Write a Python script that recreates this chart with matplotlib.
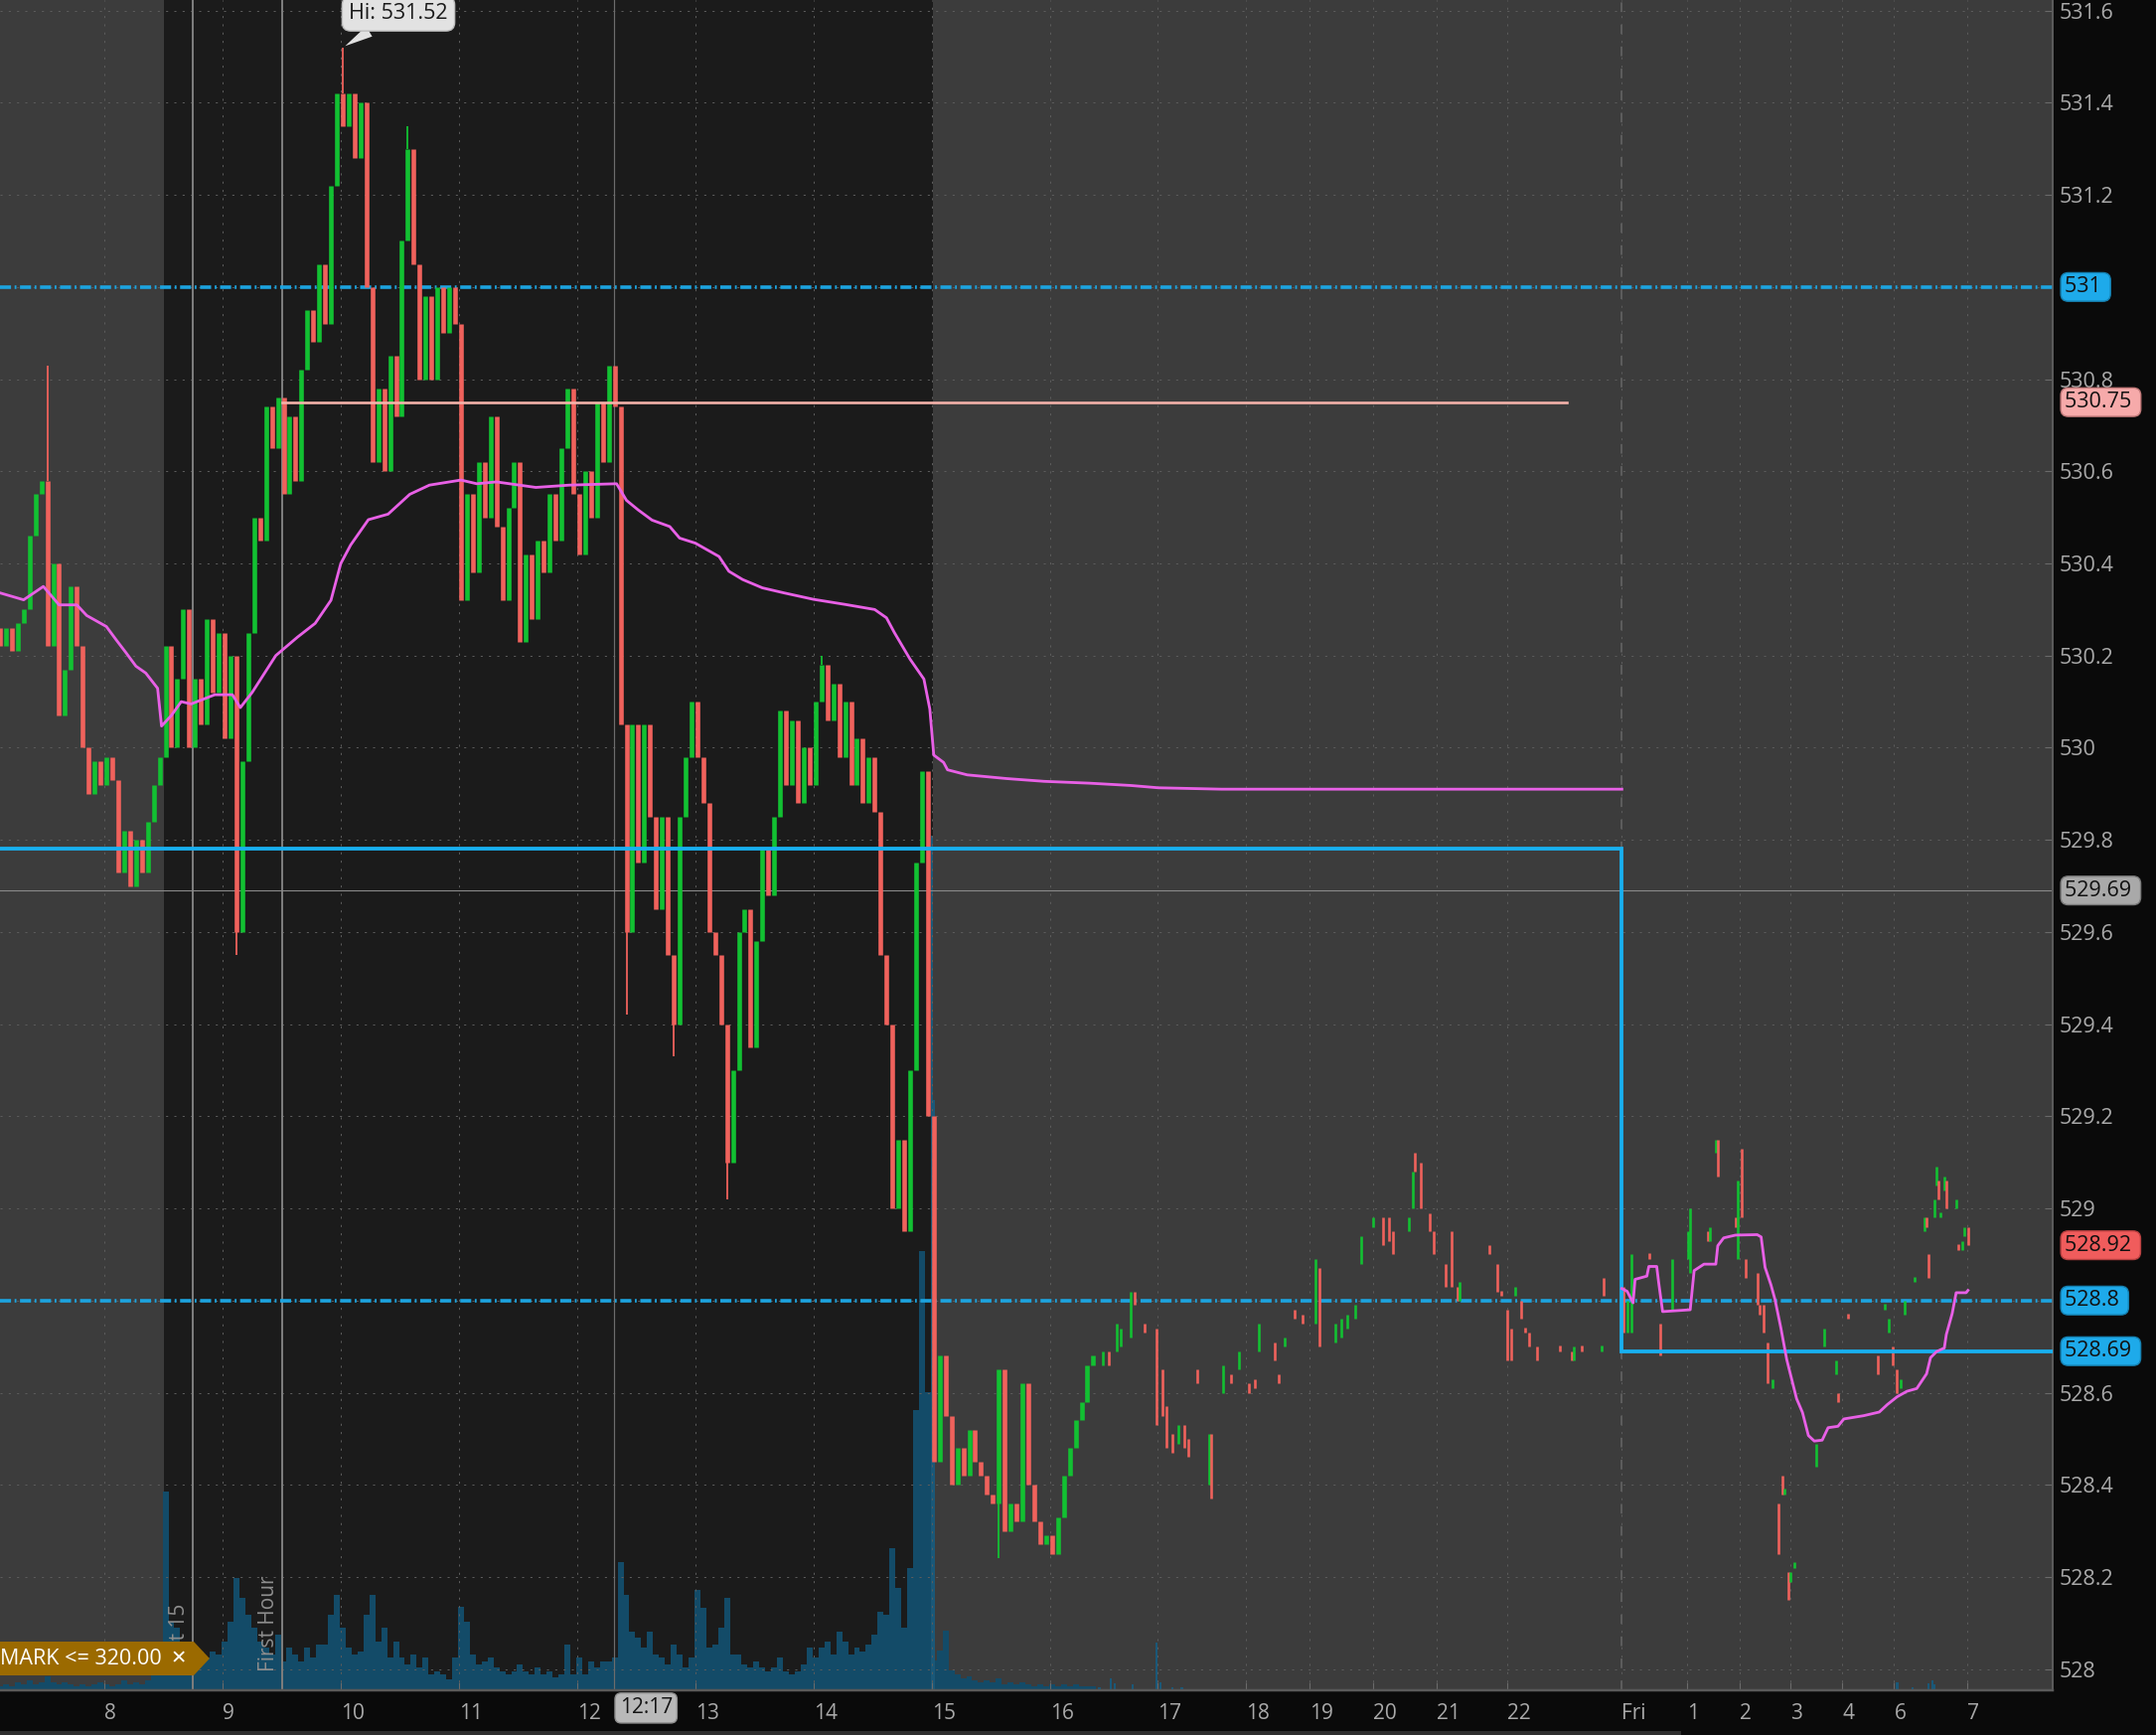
import numpy as np
import matplotlib
matplotlib.use("Agg")
import matplotlib.pyplot as plt
from matplotlib.patches import Polygon, Rectangle

plt.rcParams["font.family"] = ["Open Sans", "DejaVu Sans"]
plt.rcParams["lines.scale_dashes"] = False

# ---------------- data (x = 1-minute bar index on the chart) ----------------
SESSION_START, SESSION_END = 83, 473.5       # 8:30 .. 15:00 CT
FIRST_15, FIRST_HOUR, CURSOR, FRIDAY = 98, 143, 311.5, 823.3
X_END = 1042

TICK_BAR = [53, 113, 173, 233, 293, 353, 413, 473, 533, 587.4, 632.6, 664.6,
            697.2, 729.2, 765, 823.3, 856.6, 882.9, 909, 935.3, 961.5, 998.4]
TICK_LABEL = ["8", "9", "10", "11", "12", "13", "14", "15", "16", "17", "18", "19",
              "20", "21", "22", "Fri", "1", "2", "3", "4", "6", "7"]

# closes of 3-minute groups, bars 0, 3, 6 ... 555 (open = previous close)
DENSE_FIRST_OPEN = 530.26
DENSE_CLOSE = [
    # pre-market
    530.22, 530.26, 530.21, 530.27, 530.30, 530.46, 530.55, 530.58, 530.22, 530.40,
    530.07, 530.17, 530.35, 530.22, 530.00, 529.90, 529.97, 529.92, 529.98, 529.93,
    529.73, 529.82, 529.70, 529.80, 529.73, 529.84, 529.92, 529.98,
    # regular session
    530.22, 530.00, 530.15, 530.30, 530.00, 530.15, 530.05, 530.28, 530.12, 530.25,
    530.02, 530.20, 529.60, 529.97, 530.25, 530.50, 530.45, 530.74, 530.65, 530.76,
    530.55, 530.72, 530.58, 530.82, 530.95, 530.88, 531.05, 530.92, 531.22, 531.42,
    531.35, 531.42, 531.28, 531.40, 531.00, 530.62, 530.78, 530.60, 530.85, 530.72,
    531.10, 531.30, 531.05, 530.80, 530.98, 530.80, 531.00, 530.90, 531.00, 530.92,
    530.32, 530.55, 530.38, 530.62, 530.50, 530.72, 530.48, 530.32, 530.52, 530.62,
    530.23, 530.42, 530.28, 530.45, 530.38, 530.55, 530.45, 530.65, 530.78, 530.55,
    530.42, 530.60, 530.50, 530.75, 530.62, 530.83, 530.74, 530.05, 529.60, 530.05,
    529.75, 530.05, 529.85, 529.65, 529.85, 529.55, 529.40, 529.85, 529.98, 530.10,
    529.98, 529.88, 529.60, 529.55, 529.40, 529.10, 529.30, 529.60, 529.65, 529.35,
    529.58, 529.78, 529.68, 529.85, 530.08, 529.92, 530.06, 529.88, 530.00, 529.92,
    530.10, 530.18, 530.06, 530.14, 529.98, 530.10, 529.92, 530.02, 529.88, 529.98,
    529.86, 529.55, 529.40, 529.00, 529.15, 528.95, 529.30, 529.75, 529.95, 529.20,
    # after hours
    528.45, 528.68, 528.55, 528.40, 528.48, 528.42, 528.52, 528.45, 528.42, 528.38,
    528.36, 528.65, 528.30, 528.36, 528.32, 528.62, 528.40, 528.32, 528.27, 528.29,
    528.25, 528.33, 528.42, 528.48, 528.54, 528.58, 528.66, 528.68,
]
DENSE_VOLUME = [
    4, 6, 4, 8, 6, 10, 6, 8, 14, 8, 6, 8, 6, 4, 6, 4, 6, 8, 6, 4,
    6, 10, 6, 8, 6, 10, 20, 30,
    200, 69, 63, 33, 36, 39, 39, 33, 39, 36,
    49, 69, 113, 93, 76, 63, 49, 43, 36, 56,
    29, 43, 36, 29, 43, 33, 46, 46, 76, 96,
    63, 43, 36, 39, 76, 96, 49, 63, 33, 49,
    33, 26, 36, 23, 33, 16, 19, 16, 11, 33,
    84, 69, 36, 26, 29, 33, 23, 19, 16, 19,
    26, 19, 16, 23, 16, 19, 13, 16, 46, 16,
    33, 16, 29, 23, 29, 29, 33, 129, 96, 59,
    53, 43, 59, 36, 33, 26, 46, 36, 23, 33,
    101, 83, 43, 46, 63, 93, 36, 36, 26, 23,
    29, 23, 19, 23, 33, 19, 16, 19, 26, 43,
    33, 43, 49, 36, 59, 49, 36, 43, 39, 46,
    56, 79, 76, 143, 103, 63, 123, 282, 442, 300,
    30, 40, 60, 20, 16, 12, 14, 10, 8, 10, 8, 12, 6, 8, 6, 8, 6, 4, 6, 4,
    6, 4, 6, 4, 6, 4, 4, 4,
]
WICK_BAR = [24, 120, 174, 207, 318, 342, 369, 417, 507]
WICK_PRICE = [530.83, 529.55, 531.52, 531.35, 529.42, 529.33, 529.02, 530.20, 528.24]

# isolated extended-hours bars: (bar, open, close)
AFTER_HOURS_BARS = [
    (560, 528.66, 528.69), (563, 528.69, 528.66), (567, 528.69, 528.75), (569, 528.70, 528.74),
    (574, 528.72, 528.82), (576, 528.82, 528.79), (581, 528.75, 528.73), (587, 528.74, 528.53),
    (590, 528.65, 528.55), (592, 528.57, 528.48), (595, 528.51, 528.47), (598, 528.49, 528.53),
    (601, 528.53, 528.48), (603, 528.50, 528.46), (608, 528.65, 528.62), (614, 528.40, 528.51),
    (615, 528.51, 528.37), (621, 528.60, 528.66), (625, 528.64, 528.62), (629, 528.65, 528.69),
    (634, 528.62, 528.60), (637, 528.63, 528.61), (639, 528.69, 528.75), (647, 528.71, 528.67),
    (649, 528.64, 528.62), (652, 528.70, 528.72), (657, 528.78, 528.76), (661, 528.77, 528.75),
    (668, 528.75, 528.89), (670, 528.87, 528.70), (678, 528.71, 528.75), (681, 528.72, 528.76),
    (684, 528.74, 528.77), (688, 528.76, 528.79), (691, 528.88, 528.94), (697, 528.96, 528.98),
    (702, 528.98, 528.92), (705, 528.98, 528.93), (707, 528.95, 528.90), (715, 528.95, 528.98),
    (717, 529.00, 529.08), (718, 529.12, 529.08), (721, 529.10, 529.00), (726, 528.99, 528.95),
    (728, 528.95, 528.90), (734, 528.88, 528.83), (737, 528.95, 528.83), (740, 528.83, 528.80),
    (741, 528.80, 528.84), (756, 528.92, 528.90), (760, 528.88, 528.82), (762, 528.82, 528.81),
    (765, 528.78, 528.67), (767, 528.74, 528.67), (769, 528.81, 528.83), (772, 528.80, 528.76),
    (774, 528.74, 528.73), (776, 528.73, 528.70), (780, 528.70, 528.67), (792, 528.70, 528.69),
    (798, 528.69, 528.67), (799, 528.67, 528.70), (803, 528.70, 528.69), (813, 528.69, 528.70),
    (814, 528.85, 528.81),
]
OVERNIGHT_BARS = [
    (824, 528.83, 528.73), (826, 528.73, 528.80), (828, 528.73, 528.90), (837, 528.90, 528.89),
    (843, 528.75, 528.68), (849, 528.78, 528.89), (857, 528.89, 528.95), (858, 528.86, 529.00),
    (867, 528.95, 528.93), (868, 528.93, 528.96), (871, 529.12, 529.15), (872, 529.15, 529.07),
    (881, 528.98, 528.96), (882, 528.89, 529.06), (884, 529.13, 528.98), (886, 528.89, 528.85),
    (892, 528.86, 528.79), (893, 528.79, 528.77), (895, 528.79, 528.73), (897, 528.71, 528.62),
    (900, 528.61, 528.63), (903, 528.36, 528.25), (905, 528.42, 528.38), (906, 528.38, 528.39),
    (908, 528.21, 528.15), (909, 528.19, 528.21), (911, 528.22, 528.23), (922, 528.44, 528.49),
    (926, 528.70, 528.74), (932, 528.64, 528.67), (933, 528.60, 528.58), (938, 528.77, 528.76),
    (953, 528.68, 528.64), (957, 528.78, 528.79), (959, 528.73, 528.76), (961, 528.70, 528.66),
    (963, 528.65, 528.60), (965, 528.61, 528.63), (967, 528.77, 528.80), (972, 528.84, 528.85),
    (977, 528.95, 528.98), (978, 528.98, 528.96), (979, 528.90, 528.85), (982, 528.98, 529.02),
    (983, 529.05, 529.09), (984, 529.06, 529.02), (985, 528.98, 528.99), (987, 529.04, 529.07),
    (988, 529.06, 529.00), (993, 529.00, 529.02), (994, 528.92, 528.91), (996, 528.91, 528.93),
    (997, 528.94, 528.96), (999, 528.96, 528.92),
]
EXT_VOLUME = [(473, 860), (474, 594), (558, 3), (564, 12), (566, 7), (575, 6), (587, 48),
              (589, 8), (595, 3), (600, 3), (963, 8), (971, 3), (979, 7), (981, 10), (982, 6)]

VWAP_DAY = [
    (0, 530.336), (12, 530.321), (22, 530.35), (30, 530.31), (39, 530.31), (44, 530.287),
    (54, 530.263), (59, 530.234), (64, 530.206), (69, 530.177), (74, 530.162), (80, 530.129),
    (82, 530.047), (87, 530.07), (92, 530.10), (97, 530.095), (109, 530.115), (118, 530.115),
    (122, 530.087), (128, 530.12), (134, 530.16), (140, 530.20), (151, 530.24), (160, 530.27),
    (168, 530.32), (173, 530.40), (178, 530.44), (187, 530.495), (197, 530.507), (208, 530.55),
    (218, 530.57), (234, 530.581), (242, 530.573), (252, 530.577), (272, 530.565), (289, 530.57),
    (313, 530.573), (318, 530.537), (324, 530.516), (331, 530.494), (340, 530.48), (345, 530.455),
    (353, 530.444), (365, 530.415), (370, 530.383), (377, 530.365), (387, 530.347), (398, 530.336),
    (413, 530.322), (429, 530.311), (444, 530.30), (450, 530.282), (454, 530.25), (462, 530.192),
    (469, 530.149), (472, 530.084), (474, 529.984), (479, 529.968), (481, 529.952), (491, 529.941),
    (511, 529.933), (530, 529.927), (553, 529.923), (574, 529.918), (588, 529.913), (620, 529.91),
    (823.3, 529.91),
]
VWAP_NIGHT = [
    (823.3, 528.826), (826, 528.82), (829, 528.795), (830, 528.846), (836, 528.853), (837, 528.874),
    (841, 528.874), (842, 528.839), (844, 528.776), (858, 528.78), (860, 528.865), (865, 528.879),
    (871, 528.879), (872, 528.919), (875, 528.936), (881, 528.942), (892, 528.943), (894, 528.938),
    (896, 528.872), (899, 528.834), (901, 528.803), (904, 528.741), (907, 528.672), (912, 528.587),
    (915, 528.557), (918, 528.507), (921, 528.495), (925, 528.497), (928, 528.524), (933, 528.527),
    (936, 528.543), (946, 528.55), (954, 528.558), (958, 528.574), (963, 528.591), (968, 528.603),
    (973, 528.609), (978, 528.641), (980, 528.676), (983, 528.689), (987, 528.697), (988, 528.726),
    (991, 528.772), (993, 528.817), (998, 528.817), (999, 528.822),
]

PREV_LEVEL, NIGHT_LEVEL = 529.78, 528.69
PINK_LEVEL, PINK_FROM, PINK_TO = 530.75, 143, 795.6
DASH_LEVELS = [531.0, 528.8]
CROSS_PRICE = 529.69
HIGH_BAR, HIGH_PRICE = 174, 531.52

PRICE_TAGS = ["531", "530.75", "529.69", "528.92", "528.8", "528.69"]
TAG_PRICE = [531.0, 530.75, 529.69, 528.92, 528.8, 528.69]
TAG_FACE = ["#1eaaea", "#f6aaaa", "#a9a9a9", "#f05c5c", "#1eaaea", "#1eaaea"]
TAG_EDGE = ["#1580b0", "#c07878", "#7a7a7a", "#b84040", "#1580b0", "#1580b0"]

# ---------------- styling ----------------
W, H = 2170, 1746
PX = 72 / 100.0
GREEN, RED = "#12c132", "#f0625c"
GRAY_BG, DARK_BG, AXIS_BG = "#3c3c3c", "#1b1b1b", "#0a0a0a"
TXT = "#a9a9a9"

fig = plt.figure(figsize=(W / 100, H / 100), dpi=100, facecolor=AXIS_BG)
rect = [0, 45 / H, 2066 / W, 1701 / H]

# bottom layer: background + volume
axv = fig.add_axes(rect)
axv.axvspan(0, X_END, color=GRAY_BG, lw=0, zorder=0)
axv.axvspan(SESSION_START, SESSION_END, color=DARK_BG, lw=0, zorder=0)
dense_x = np.arange(len(DENSE_CLOSE)) * 3
axv.bar(dense_x, DENSE_VOLUME, width=3.0, color="#134b68", lw=0, zorder=1)
ev_x, ev_v = zip(*EXT_VOLUME)
axv.bar(ev_x, ev_v, width=1.2, color="#1a5878", lw=0, zorder=1)
axv.set_ylim(0, 1701)
axv.set_xlim(0, X_END)
axv.axis("off")

# top layer: price
ax = fig.add_axes(rect, sharex=axv)
ax.set_facecolor("none")
ax.set_xlim(0, X_END)
ax.set_ylim(527.954, 531.623)

yt = np.round(np.arange(528.0, 531.61, 0.2), 1)
ax.set_yticks(yt)
# levels carrying a price tag show the tag instead of the plain tick label
ax.set_yticklabels(["" if np.isclose(v, TAG_PRICE).any() else "%g" % v for v in yt])
ax.set_xticks(TICK_BAR)
ax.set_xticklabels(TICK_LABEL)
for lb in ax.get_xticklabels():
    lb.set_ha("left")

ax.grid(True, color="#5c5c5c", lw=1 * PX, linestyle=(0, (1.5, 4.5)), zorder=0)
ax.set_axisbelow(True)
ax.yaxis.tick_right()
ax.tick_params(axis="y", direction="in", length=6, color="#6a6a6a",
               labelcolor=TXT, labelsize=15.5, pad=5)
ax.tick_params(axis="x", direction="in", length=6, color="#6a6a6a",
               labelcolor=TXT, labelsize=15, pad=9)
for s in ["top", "left"]:
    ax.spines[s].set_visible(False)
ax.spines["right"].set_color("#5a5a5a")
ax.spines["right"].set_linewidth(2 * PX)
ax.spines["bottom"].set_color("#5a5a5a")
ax.spines["bottom"].set_linewidth(2.5 * PX)

# reference lines
ax.axvline(FIRST_15, color="#7c7c7c", lw=2 * PX, zorder=1)
ax.axvline(FIRST_HOUR, color="#7c7c7c", lw=2 * PX, zorder=1)
ax.axvline(CURSOR, color="#6c6c6c", lw=1.2 * PX, zorder=1)
ax.axvline(FRIDAY, color="#5c5c5c", lw=2 * PX, linestyle=(0, (7, 9)), zorder=1)
ax.axhline(CROSS_PRICE, color="#8a8a8a", lw=1.1 * PX, zorder=2)
for lvl in DASH_LEVELS:
    ax.axhline(lvl, color="#1ca4e0", lw=3.6 * PX, linestyle=(0, (8, 2.6, 1.3, 2.6)), zorder=3)
ax.plot([0, FRIDAY, FRIDAY, X_END], [PREV_LEVEL, PREV_LEVEL, NIGHT_LEVEL, NIGHT_LEVEL],
        color="#18b0f0", lw=3.8 * PX, zorder=5, solid_joinstyle="miter")
ax.plot([PINK_FROM, PINK_TO], [PINK_LEVEL, PINK_LEVEL], color="#f4b2aa", lw=2.6 * PX, zorder=5)

# dense candles (open = previous close)
close = np.array(DENSE_CLOSE)
opn = np.r_[DENSE_FIRST_OPEN, close[:-1]]
lo = np.minimum(opn, close)
hi = np.maximum(np.maximum(opn, close), lo + 0.012)
cols = np.where(close >= opn, GREEN, RED)
ax.vlines(dense_x, lo, hi, colors=cols, lw=4.6 * PX, zorder=4)
for b, p in zip(WICK_BAR, WICK_PRICE):
    i = b // 3
    edge = hi[i] if p > hi[i] else lo[i]
    ax.vlines(dense_x[i], min(edge, p), max(edge, p), colors=cols[i], lw=1.8 * PX, zorder=4)

# isolated bars
for group in (AFTER_HOURS_BARS, OVERNIGHT_BARS):
    bx, bo, bc = map(np.array, zip(*group))
    blo = np.minimum(bo, bc)
    bhi = np.maximum(np.maximum(bo, bc), blo + 0.012)
    ax.vlines(bx, blo, bhi, colors=np.where(bc >= bo, GREEN, RED), lw=2.6 * PX, zorder=4)

# VWAP
for seg in (VWAP_DAY, VWAP_NIGHT):
    vx, vy = zip(*seg)
    ax.plot(vx, vy, color="#e860e6", lw=2.8 * PX, zorder=6)

# price tags on the right axis
ytr = ax.get_yaxis_transform()
for lab, p, fc, ec in zip(PRICE_TAGS, TAG_PRICE, TAG_FACE, TAG_EDGE):
    ax.text(1.0058, p, lab + " ", transform=ytr, ha="left", va="center", fontsize=15.5,
            color="#111111", zorder=10, clip_on=False,
            bbox=dict(boxstyle="round,pad=0.18,rounding_size=0.35", fc=fc, ec=ec, lw=1))

# high callout
ax.annotate("Hi: 531.52", xy=(HIGH_BAR, HIGH_PRICE), xytext=(56, 34), textcoords="offset pixels",
            ha="center", va="center", fontsize=15.5, color="#1a1a1a", zorder=10,
            bbox=dict(boxstyle="round,pad=0.32,rounding_size=0.4", fc="#e2e2e2", ec="#bdbdbd", lw=1),
            arrowprops=dict(arrowstyle="wedge,tail_width=0.55,shrink_factor=0.5",
                            fc="#e2e2e2", ec="none", shrinkA=0, shrinkB=2))

# cursor time box
xtr = ax.get_xaxis_transform()
ax.text(CURSOR + 3, -0.0105, "12:17", transform=xtr, ha="left", va="center", fontsize=15,
        color="#141414", zorder=10, clip_on=False,
        bbox=dict(boxstyle="round,pad=0.22,rounding_size=0.3", fc="#b9b9b9", ec="#8e8e8e", lw=1))

# study labels
ax.text(FIRST_15 - 1.5, 0.0094, "First 15", transform=xtr, rotation=90, ha="right",
        va="bottom", fontsize=15, color="#8e8e8e", zorder=7)
ax.text(FIRST_HOUR - 1.5, 0.0112, "First Hour", transform=xtr, rotation=90, ha="right",
        va="bottom", fontsize=15, color="#8e8e8e", zorder=7)

# alert flag
flag = Polygon([(0, 0.0088), (0.0944, 0.0088), (0.1021, 0.0188), (0.0944, 0.0288), (0, 0.0288)],
               closed=True, transform=ax.transAxes, fc="#9b6a00", ec="none", zorder=9, clip_on=False)
ax.add_patch(flag)
ax.text(0.0790, 0.0188, "MARK <= 320.00", transform=ax.transAxes, ha="right", va="center",
        fontsize=15.5, color="white", zorder=10)
ax.text(0.0871, 0.0188, "\u2715", transform=ax.transAxes, ha="center", va="center",
        fontsize=14, color="white", fontweight="bold", zorder=10, family=["DejaVu Sans"])

# scrollbar strip at the very bottom
fig.add_artist(Rectangle((0, 0), 1692 / W, 4 / H, transform=fig.transFigure,
                         color="#2e2e2e", lw=0))

fig.savefig("out.png", dpi=100, facecolor=fig.get_facecolor())
